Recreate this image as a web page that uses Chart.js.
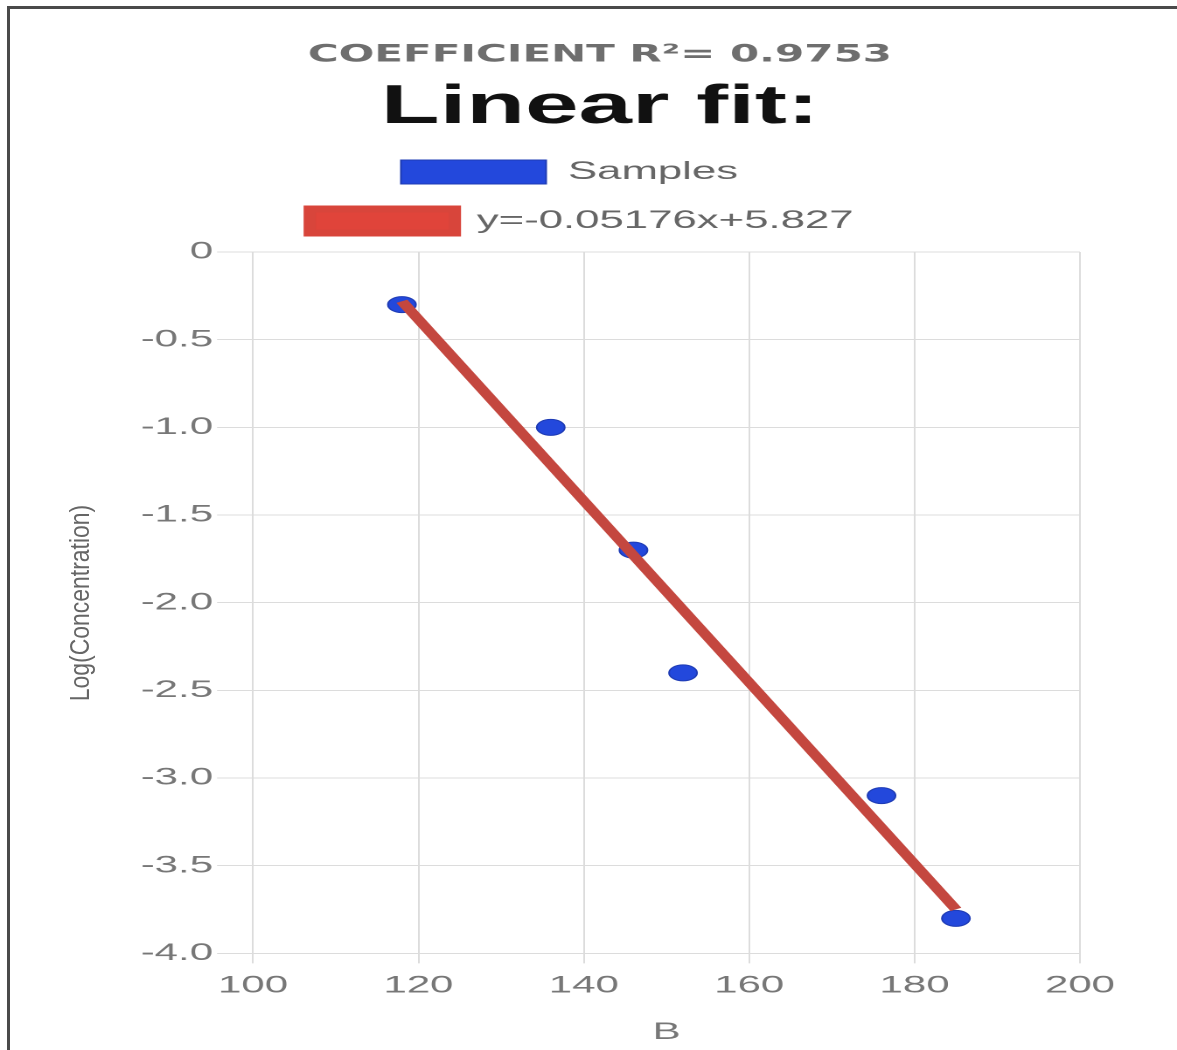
<!DOCTYPE html>
<html>
<head>
<meta charset="utf-8">
<script src="https://cdn.jsdelivr.net/npm/chart.js@4.4.1/dist/chart.umd.min.js"></script>
<style>
  html, body { margin: 0; padding: 0; background: #fff; }
  body { width: 1177px; height: 1050px; position: relative; overflow: hidden; }
  /* the original screenshot is stretched sideways, so the chart is drawn narrow and widened */
  #wrap { position: absolute; left: 0; top: 0; width: 673px; height: 1050px; transform: scaleX(1.7489); transform-origin: 0 0; }
  #frame { position: absolute; left: 7px; top: 6px; right: 0; bottom: 0; border-top: 3px solid #4a4a4a; border-left: 3px solid #4a4a4a; pointer-events: none; }
  #yTitle { position: absolute; left: 80px; top: 603px; transform: translate(-50%, -50%) rotate(-90deg) scaleX(0.85); font: 27px "Liberation Sans", Arial, sans-serif; color: #666; white-space: nowrap; }
</style>
</head>
<body>
<div id="wrap"><canvas id="fitChart" width="673" height="1050"></canvas></div>
<div id="yTitle">Log(Concentration)</div>
<div id="frame"></div>
<script>
// values
const sampleX = [118, 136, 146, 152, 176, 185];
const sampleY = [-0.3, -1.0, -1.7, -2.4, -3.1, -3.8];
const fitX = [118, 185];
const fitY = [-0.281, -3.749];

const xTickValues = [100, 120, 140, 160, 180, 200];
const yTickValues = [0, -0.5, -1, -1.5, -2, -2.5, -3, -3.5, -4];
const yTickLabels = ["0", "-0.5", "-1.0", "-1.5", "-2.0", "-2.5", "-3.0", "-3.5", "-4.0"];

const seriesLabels = ["Samples", "y=-0.05176x+5.827"];
const chartTitle = "Linear fit:";
const chartSubtitle = "COEFFICIENT R\u00b2= 0.9753";
const xAxisTitle = "B";

const GRID = "#dcdcdc";
const TICK = "#777";

const samplePoints = sampleX.map((x, i) => ({ x: x, y: sampleY[i] }));
const fitPoints = fitX.map((x, i) => ({ x: x, y: fitY[i] }));

const ctx = document.getElementById("fitChart").getContext("2d");

new Chart(ctx, {
  type: "scatter",
  data: {
    datasets: [
      {
        label: seriesLabels[0],
        data: samplePoints,
        xAxisID: "x",
        backgroundColor: "#2348dc",
        borderColor: "#1f3cb5",
        borderWidth: 1,
        pointRadius: 8,
        order: 2,
      },
      {
        label: seriesLabels[1],
        data: fitPoints,
        xAxisID: "x",
        showLine: true,
        fill: false,
        backgroundColor: "#e0443a",
        borderColor: "#c4473f",
        borderWidth: 7,
        pointRadius: 0,
        order: 1,
      },
    ],
  },
  options: {
    responsive: false,
    devicePixelRatio: 2,
    animation: false,
    layout: { padding: { left: 68.5, right: 55.5, top: 41, bottom: 3 } },
    plugins: {
      tooltip: { enabled: false },
      subtitle: {
        display: true,
        text: chartSubtitle,
        color: "#6e6e6e",
        font: { family: "DejaVu Sans", size: 24, weight: "bold" },
        padding: { top: 0, bottom: 10.7 },
        weight: 3000,
      },
      title: {
        display: true,
        text: chartTitle,
        color: "#111",
        font: { family: "Liberation Sans", size: 55, weight: "bold", lineHeight: 1 },
        padding: 0,
      },
      legend: {
        display: true,
        position: "top",
        maxWidth: 360,
        labels: {
          boxWidth: 83,
          boxHeight: 24,
          padding: 24,
          color: "#666",
          font: { family: "Liberation Sans", size: 25 },
          generateLabels: (chart) => {
            const items = Chart.defaults.plugins.legend.labels.generateLabels(chart);
            items.sort((a, b) => a.datasetIndex - b.datasetIndex);
            // trailing spaces pull each row a little left, like the original
            items.forEach((it, i) => { it.text = it.text + " ".repeat(i === 0 ? 5 : 3); });
            // the fit swatch is a flat red block with only a faint edge
            items[1].strokeStyle = "#d8453b";
            return items;
          },
        },
      },
    },
    scales: {
      x: {
        type: "linear",
        position: "bottom",
        min: 100,
        max: 200,
        afterBuildTicks: (scale) => { scale.ticks = xTickValues.map((v) => ({ value: v })); },
        grid: { color: GRID, tickLength: 10 },
        border: { color: GRID },
        ticks: { color: TICK, padding: 8, font: { family: "Liberation Sans", size: 24 } },
        title: {
          display: true,
          text: xAxisTitle,
          color: TICK,
          font: { family: "Liberation Sans", size: 24 },
          padding: { top: 10, bottom: 0 },
        },
      },
      // empty spacer between the legend and the plot
      x2: {
        type: "linear",
        position: "top",
        display: true,
        grid: { color: "transparent", drawOnChartArea: false, drawTicks: true, tickLength: 8.5 },
        border: { display: false },
        ticks: { display: false },
      },
      y: {
        type: "linear",
        position: "left",
        min: -4,
        max: 0,
        afterBuildTicks: (scale) => { scale.ticks = yTickValues.map((v) => ({ value: v })); },
        afterFit: (scale) => { scale.width = 76.2; },
        grid: { color: GRID, tickLength: 20.6 },
        border: { color: GRID },
        ticks: {
          color: TICK,
          padding: 2.3,
          font: { family: "Liberation Sans", size: 24 },
          callback: (value) => yTickLabels[yTickValues.indexOf(value)],
        },
      },
    },
  },
});
</script>
</body>
</html>
